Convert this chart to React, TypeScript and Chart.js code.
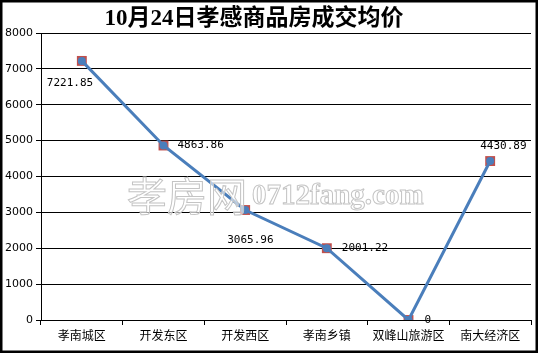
import React, { useEffect, useRef } from "react";
import { Chart, registerables } from "chart.js";

Chart.register(...registerables);

const titleText = "10月24日孝感商品房成交均价";
const categories = ["孝南城区", "开发东区", "开发西区", "孝南乡镇", "双峰山旅游区", "南大经济区"];
const prices = [7221.85, 4863.86, 3065.96, 2001.22, 0, 4430.89];
const yTicks = [0, 1000, 2000, 3000, 4000, 5000, 6000, 7000, 8000];
const watermarkCn = "孝房网";
const watermarkEn = "0712fang.com";

// label placement per point: [dx, dy, align]
const labelPlacement: [number, number, CanvasTextAlign][] = [
  [-35, 22, "left"],
  [14, 0, "left"],
  [-18, 30, "left"],
  [15, 0, "left"],
  [16, 0, "left"],
  [-10, -15, "left"],
];

function formatLabel(v: number) {
  return v === 0 ? "0" : v.toFixed(2);
}

export default function App() {
  const ref = useRef<HTMLCanvasElement>(null);
  useEffect(() => {
    document.body.style.margin = "0";
    const canvas = ref.current!;
    const framePlugin = {
      id: "frame",
      beforeDraw(chart: any) {
        const ctx = chart.ctx;
        ctx.save();
        ctx.fillStyle = "#ffffff";
        ctx.fillRect(0, 0, chart.width, chart.height);
        ctx.restore();
      },
      afterDraw(chart: any) {
        const ctx = chart.ctx;
        const meta = chart.getDatasetMeta(0);
        ctx.save();
        // data labels
        ctx.font = "11px 'DejaVu Sans Mono'";
        ctx.fillStyle = "#000";
        ctx.textBaseline = "middle";
        meta.data.forEach((pt: any, i: number) => {
          const [dx, dy, align] = labelPlacement[i];
          ctx.textAlign = align;
          ctx.fillText(formatLabel(prices[i]), pt.x + dx, pt.y + dy);
        });
        // watermark
        ctx.lineWidth = 1;
        ctx.strokeStyle = "#c4c4c4";
        ctx.fillStyle = "rgba(255,255,255,0.6)";
        ctx.textAlign = "left";
        ctx.textBaseline = "middle";
        ctx.font = "40px 'Noto Sans CJK SC'";
        ctx.fillText(watermarkCn, 127, 196);
        ctx.strokeText(watermarkCn, 127, 196);
        ctx.font = "bold 29px 'Liberation Serif'";
        ctx.fillText(watermarkEn, 252, 197);
        ctx.strokeText(watermarkEn, 252, 197);
        // title
        ctx.fillStyle = "#000";
        ctx.textAlign = "center";
        ctx.textBaseline = "middle";
        ctx.font = "bold 23px 'Liberation Serif', 'Noto Sans CJK SC'";
        ctx.fillText(titleText, 254, 19);
        // frame
        ctx.strokeStyle = "#000";
        ctx.lineWidth = 3;
        ctx.strokeRect(1, 1, chart.width - 2, chart.height - 2);
        ctx.restore();
      },
    };
    const chart = new Chart(canvas, {
      type: "line",
      data: {
        labels: categories,
        datasets: [
          {
            data: prices,
            order: 1,
            borderColor: "#4a7ebb",
            borderWidth: 3,
            pointStyle: "circle",
            pointRadius: 4,
            pointBackgroundColor: "#4a7ebb",
            pointBorderColor: "#4a7ebb",
            pointBorderWidth: 0,
            tension: 0,
          },
          {
            data: prices,
            order: 2,
            showLine: false,
            pointStyle: "rect",
            pointRadius: 7,
            pointBackgroundColor: "#c0504d",
            pointBorderColor: "#c0504d",
            pointBorderWidth: 0,
          },
        ],
      },
      options: {
        responsive: false,
        animation: false,
        events: [],
        layout: { padding: { top: 33, right: 4, left: 0, bottom: 0 } },
        plugins: { legend: { display: false }, title: { display: false }, tooltip: { enabled: false } },
        scales: {
          x: {
            offset: true,
            grid: { offset: true, drawOnChartArea: false, drawTicks: true, tickLength: 5, color: "#000", lineWidth: 1 },
            border: { color: "#000", width: 1 },
            ticks: { color: "#000", font: { family: "'Noto Sans CJK SC'", size: 12 }, padding: 3, maxRotation: 0, autoSkip: false },
            afterFit(scale: any) { scale.height = 33; },
          },
          y: {
            min: 0,
            max: 8000,
            afterBuildTicks(scale: any) { scale.ticks = yTicks.map((v) => ({ value: v })); },
            grid: { color: "#000", lineWidth: 1, tickLength: 5, drawTicks: true },
            border: { color: "#000", width: 1 },
            ticks: {
              color: "#000",
              font: { family: "'DejaVu Sans'", size: 11 },
              padding: 3,
              callback: (v: any) => String(v),
            },
            afterFit(scale: any) { scale.width = 41; },
          },
        },
      },
      plugins: [framePlugin],
    });
    return () => chart.destroy();
  }, []);
  return <canvas ref={ref} width={538} height={353} style={{ display: "block" }} />;
}
